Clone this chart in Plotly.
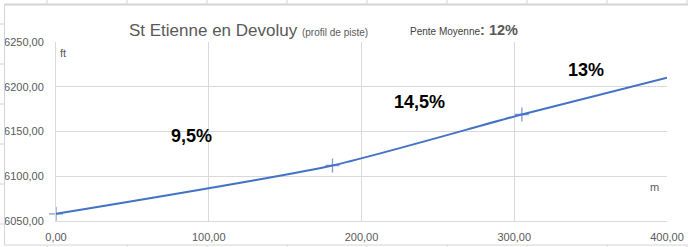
import plotly.graph_objects as go

# ---- data ----
distance_m = [0, 181, 305, 400]
altitude_ft = [6058, 6112, 6169, 6210]
marker_sizes = [10, 10, 10, 0]
slope_labels = ["9,5%", "14,5%", "13%"]
slope_x = [89, 238, 347]
slope_y = [6145, 6183, 6219]
x_ticks = [0, 100, 200, 300, 400]
y_ticks = [6050, 6100, 6150, 6200, 6250]

W, H = 688, 247
L, R, T, B = 56, 21, 42, 26
PW, PH = W - L - R, H - T - B

def px(x):
    return (x - L) / PW

def py(y):
    return (H - B - y) / PH

BLUE = "#4472C4"
GRID = "#d9d9d9"
TXT = "#595959"
FONT = "Liberation Sans, Arial, sans-serif"

fig = go.Figure()
fig.add_trace(go.Scatter(
    x=distance_m, y=altitude_ft, mode="lines+markers",
    line=dict(color=BLUE, width=2, shape="spline", smoothing=0.6),
    marker=dict(symbol="cross-thin", size=marker_sizes,
                line=dict(color=BLUE, width=1.3), color=BLUE),
    cliponaxis=False, showlegend=False, hoverinfo="skip",
))

annotations = []
for t, xv, yv in zip(slope_labels, slope_x, slope_y):
    annotations.append(dict(x=xv, y=yv, xref="x", yref="y", text=f"<b>{t}</b>", showarrow=False,
                            font=dict(family=FONT, size=18, color="#000000")))

annotations += [
    dict(x=px(127), y=py(30), xref="paper", yref="paper", xanchor="left", yanchor="middle",
         showarrow=False,
         text="St Etienne en Devoluy <span style='font-size:10px'>(profil de piste)</span>",
         font=dict(family=FONT, size=17, color=TXT)),
    dict(x=px(408), y=py(30), xref="paper", yref="paper", xanchor="left", yanchor="middle",
         showarrow=False,
         text="<span style='font-size:10px;color:#404040'>Pente Moyenne</span><b>: 12%</b>",
         font=dict(family=FONT, size=14.5, color=TXT)),
    dict(x=px(58), y=py(53), xref="paper", yref="paper", xanchor="left", yanchor="middle",
         showarrow=False, text="ft", font=dict(family=FONT, size=11, color=TXT)),
    dict(x=px(661), y=py(187), xref="paper", yref="paper", xanchor="right", yanchor="middle",
         showarrow=False, text="m", font=dict(family=FONT, size=11, color=TXT)),
]

CELL = "#d4d4d4"
shapes = [
    dict(type="line", xref="paper", yref="paper", x0=px(4), x1=px(688), y0=py(4.5), y1=py(4.5),
         line=dict(color=CELL, width=2)),
    dict(type="line", xref="paper", yref="paper", x0=px(4.5), x1=px(4.5), y0=py(4), y1=py(245),
         line=dict(color=CELL, width=1)),
    dict(type="line", xref="paper", yref="paper", x0=px(4), x1=px(688), y0=py(245), y1=py(245),
         line=dict(color=CELL, width=1)),
]
for cx in range(47, 689, 80):
    shapes.append(dict(type="line", xref="paper", yref="paper", x0=px(cx), x1=px(cx),
                       y0=py(0), y1=py(3.5), line=dict(color=CELL, width=1)))
    shapes.append(dict(type="line", xref="paper", yref="paper", x0=px(cx), x1=px(cx),
                       y0=py(245.5), y1=py(247), line=dict(color=CELL, width=1)))
for cy in range(24, 247, 40):
    shapes.append(dict(type="line", xref="paper", yref="paper", x0=px(0), x1=px(4),
                       y0=py(cy), y1=py(cy), line=dict(color=CELL, width=1)))

fig.update_layout(
    width=W, height=H,
    margin=dict(l=L, r=R, t=T, b=B, autoexpand=False),
    paper_bgcolor="white", plot_bgcolor="white",
    font=dict(family=FONT, size=11, color=TXT),
    xaxis=dict(range=[0, 400], tickvals=x_ticks, automargin=False,
               ticktext=[f"{v:.2f}".replace(".", ",") for v in x_ticks],
               showgrid=True, gridcolor=GRID, gridwidth=1,
               showline=True, linecolor=GRID, linewidth=1, mirror=False,
               zeroline=False, ticks="", ticklabelstandoff=6,
               tickfont=dict(family=FONT, size=11, color=TXT)),
    yaxis=dict(range=[6050, 6250], tickvals=y_ticks, automargin=False,
               ticktext=[f"{v:.2f}".replace(".", ",") for v in y_ticks],
               showgrid=True, gridcolor=GRID, gridwidth=1,
               showline=True, linecolor=GRID, linewidth=1,
               zeroline=False, ticks="", ticklabelstandoff=9,
               tickfont=dict(family=FONT, size=11, color=TXT)),
    annotations=annotations,
    shapes=shapes,
)

fig.write_html("out.html")
